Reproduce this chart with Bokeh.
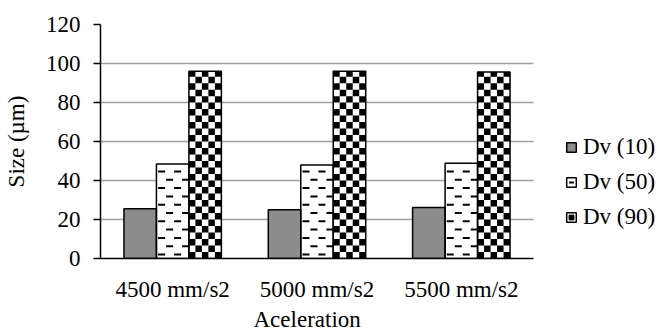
import numpy as np
from bokeh.plotting import figure
from bokeh.models import (ColumnDataSource, Range1d, Legend, LegendItem, FixedTicker, Title)
from bokeh.embed import file_html
from bokeh.resources import INLINE

categories = ["4500 mm/s2", "5000 mm/s2", "5500 mm/s2"]
dv10 = [25.5, 25.0, 26.2]
dv50 = [48.5, 48.0, 48.8]
dv90 = [96.0, 96.0, 95.6]
series_names = ["Dv (10)", "Dv (50)", "Dv (90)"]
y_ticks = [0, 20, 40, 60, 80, 100, 120]
x_title = "Aceleration"
y_title = "Size (µm)"

FONT = "Liberation Serif"
FS = "23px"

# layout constants (pixels)
W, H = 659, 331
LEFT, TOP, BOTTOM = 100, 24, 73
CAT_PX = 433 / 3.0            # pixel width of one category
FRAME_W = W - LEFT
FRAME_H = H - TOP - BOTTOM
PX_X = CAT_PX                 # px per x unit
PX_Y = FRAME_H / 120.0        # px per y unit

xpos = np.arange(len(categories), dtype=float)
w = 0.225
nan = float("nan")

p = figure(width=W, height=H,
           x_range=Range1d(-0.5, -0.5 + FRAME_W / CAT_PX), y_range=Range1d(0, 120),
           output_backend="svg", toolbar_location=None,
           min_border_left=LEFT, min_border_right=0, min_border_top=TOP,
           min_border_bottom=BOTTOM)
p.outline_line_color = None

# ---- bar fills
src10 = ColumnDataSource(dict(x=xpos - w, top=dv10))
src50 = ColumnDataSource(dict(x=xpos, top=dv50))
src90 = ColumnDataSource(dict(x=xpos + w, top=dv90))
f1 = p.vbar(x="x", top="top", width=w, source=src10, fill_color="#8c8c8c", line_color=None)
f2 = p.vbar(x="x", top="top", width=w, source=src50, fill_color="white", line_color=None)
f3 = p.vbar(x="x", top="top", width=w, source=src90, fill_color="white", line_color=None)

# ---- checkerboard pattern for Dv (90), computed from bar extents
ncol = 5
dx = w / ncol
sq = dx * PX_X / PX_Y
cl, cr, cb, ct = [], [], [], []
for g, top in enumerate(dv90):
    left = xpos[g] + w - w / 2
    j = 0
    while j * sq < top:
        b = j * sq
        t = min((j + 1) * sq, top)
        for i in range(ncol):
            if (i + j) % 2 == 0:
                cl.append(left + i * dx); cr.append(left + (i + 1) * dx)
                cb.append(b); ct.append(t)
        j += 1
p.quad(left=cl, right=cr, bottom=cb, top=ct, fill_color="black", line_color=None)

# ---- staggered dash pattern for Dv (50)
dl, dr, db, dt = [], [], [], []
row_px, dash_len, dash_h = 8.3, 7.0, 2.0
for g, top in enumerate(dv50):
    left = xpos[g] - w / 2
    right = left + w
    k = 0
    while True:
        yc = (4.0 + row_px * k) / PX_Y
        if yc + (dash_h / 2 + 1.5) / PX_Y > top:
            break
        offs = [1.7, 17.7] if k % 2 == 0 else [9.7, 25.7]
        for o in offs:
            x0 = left + o / PX_X
            x1 = min(left + (o + dash_len) / PX_X, right)
            dl.append(x0); dr.append(x1)
            db.append(yc - dash_h / 2 / PX_Y); dt.append(yc + dash_h / 2 / PX_Y)
        k += 1
p.quad(left=dl, right=dr, bottom=db, top=dt, fill_color="black", line_color=None)

# ---- bar outlines
o1 = p.vbar(x="x", top="top", width=w, source=src10, fill_color=None, line_color="black", line_width=1.5)
o2 = p.vbar(x="x", top="top", width=w, source=src50, fill_color=None, line_color="black", line_width=1.5)
o3 = p.vbar(x="x", top="top", width=w, source=src90, fill_color=None, line_color="black", line_width=1.5)

# legend-only swatch decorations (NaN point: not drawn in the plot)
lg50 = p.scatter(x=[nan], y=[nan], marker="dash", size=7, line_color="black", line_width=2)
lg90 = p.scatter(x=[nan], y=[nan], marker="square", size=6, fill_color="black", line_color="black")

# ---- axes
p.yaxis.ticker = FixedTicker(ticks=y_ticks)
p.xaxis.ticker = FixedTicker(ticks=list(xpos))
p.xaxis.major_label_overrides = {float(i): c for i, c in enumerate(categories)}
p.xaxis.bounds = (-0.5, len(categories) - 0.5)
p.yaxis.axis_label = y_title
for ax in (p.xaxis, p.yaxis):
    ax.axis_label_text_font = FONT
    ax.axis_label_text_font_size = FS
    ax.axis_label_text_font_style = "normal"
    ax.axis_label_text_color = "black"
    ax.major_label_text_font = FONT
    ax.major_label_text_font_size = FS
    ax.major_label_text_color = "black"
    ax.axis_line_color = "black"
    ax.axis_line_width = 1.5
    ax.minor_tick_line_color = None
p.yaxis.major_tick_out = 7
p.yaxis.major_tick_in = 0
p.yaxis.major_tick_line_width = 1.5
p.yaxis.major_tick_line_color = "black"
p.yaxis.major_label_standoff = 13
p.yaxis.axis_label_standoff = 14
p.xaxis.major_tick_out = 0
p.xaxis.major_tick_in = 0
p.xaxis.major_tick_line_color = None
p.xaxis.major_label_standoff = 18

# x-axis title placed below, left-aligned so it sits under the categories
xt = Title(text=x_title, align="left", offset=153, standoff=0,
           text_font=FONT, text_font_size=FS, text_font_style="normal", text_color="black")
p.add_layout(xt, "below")

p.xgrid.grid_line_color = None
yg = p.ygrid[0]
if "cross_bounds" in yg.properties():
    yg.cross_bounds = (-0.5, len(categories) - 0.5)
    yg.grid_line_color = "#a0a0a0"
    yg.grid_line_width = 1.5
else:
    yg.grid_line_color = None
    p.segment(x0=[-0.5] * len(y_ticks[1:]), x1=[len(categories) - 0.5] * len(y_ticks[1:]),
              y0=y_ticks[1:], y1=y_ticks[1:], line_color="#a0a0a0", line_width=1.5,
              level="underlay")

legend = Legend(items=[LegendItem(label=series_names[0], renderers=[f1, o1]),
                       LegendItem(label=series_names[1], renderers=[f2, o2, lg50]),
                       LegendItem(label=series_names[2], renderers=[f3, o3, lg90])],
                location=(465, 28), orientation="vertical",
                label_text_font=FONT, label_text_font_size=FS, label_text_color="black",
                glyph_width=12, glyph_height=12, label_standoff=6, spacing=9,
                padding=0, margin=0, border_line_color=None, background_fill_alpha=0)
p.add_layout(legend)

open("out.html", "w").write(file_html(p, INLINE))
